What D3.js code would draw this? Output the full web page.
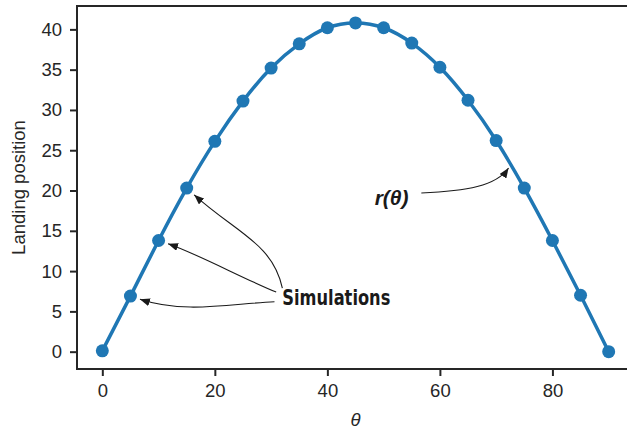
<!DOCTYPE html>
<html>
<head>
<meta charset="utf-8">
<script src="https://cdn.jsdelivr.net/npm/d3@7"></script>
<style>
  body { margin: 0; background: #fff; }
  svg { display: block; }
  .axis text { font-family: 'Liberation Sans', Arial, sans-serif; font-size: 18.5px; fill: #262626; }
  .axis line { stroke: #262626; stroke-width: 2; }
</style>
</head>
<body>
<div id="chart"></div>
<script>
// launch angle (degrees) and simulated landing position
const thetas = [0, 5, 10, 15, 20, 25, 30, 35, 40, 45, 50, 55, 60, 65, 70, 75, 80, 85, 90]
const landing = [0.1, 6.9, 13.8, 20.3, 26.1, 31.1, 35.2, 38.2, 40.2, 40.8, 40.2, 38.3, 35.3, 31.2, 26.2, 20.3, 13.8, 7.0, 0.0]

const xTicks = [0, 20, 40, 60, 80]
const yTicks = [0, 5, 10, 15, 20, 25, 30, 35, 40]

// annotation anchors, in data units
const simLabel = { text: 'Simulations', theta: 32.0, r: 5.8 }
const rLabel = { theta: 48.4, r: 18.2 }
// arrows from the "Simulations" label to three of the points
const simArrows = [
  { from: [32.0, 7.9], target: 3, c1: [-10, -45], c2: [50, 45] },
  { from: [30.9, 7.4], target: 2, c1: [-30, -12], c2: [38, 13] },
  { from: [30.6, 6.2], target: 1, c1: [-45, 2], c2: [55, 18] }
]
const rArrow = { from: [56.7, 19.7], to: [72.2, 22.8], c1: [45, -2], c2: [-12, 18] }

const width = 627
const height = 431
const plotLeft = 77
const plotTop = 6
const plotBottom = 369

const data = thetas.map((t, i) => ({ theta: t, r: landing[i] }))

const x = d3.scaleLinear().domain([-4.5, 94.5]).range([plotLeft, 634])
const y = d3.scaleLinear().domain([-2.15, 42.9]).range([plotBottom, plotTop])

const svg = d3
  .select('#chart')
  .append('svg')
  .attr('width', width)
  .attr('height', height)

svg
  .append('defs')
  .append('marker')
  .attr('id', 'head')
  .attr('viewBox', '0 0 10 8')
  .attr('refX', 10)
  .attr('refY', 4)
  .attr('markerWidth', 10)
  .attr('markerHeight', 8)
  .attr('markerUnits', 'userSpaceOnUse')
  .attr('orient', 'auto')
  .append('path')
  .attr('d', 'M0,0 L10,4 L0,8 Z')
  .attr('fill', '#1a1a1a')

// axes
const yAxis = d3.axisLeft(y).tickValues(yTicks).tickSize(7).tickPadding(8)
svg
  .append('g')
  .attr('class', 'axis y-axis')
  .attr('transform', 'translate(' + plotLeft + ',0)')
  .call(yAxis)
  .call(g => g.select('.domain').remove())

const xAxis = d3.axisBottom(x).tickValues(xTicks).tickSize(7).tickPadding(8)
svg
  .append('g')
  .attr('class', 'axis x-axis')
  .attr('transform', 'translate(0,' + plotBottom + ')')
  .call(xAxis)
  .call(g => g.select('.domain').remove())

// spines (right one falls outside the picture)
const spines = svg.append('g').attr('stroke', '#262626').attr('stroke-width', 2)
spines.append('line').attr('x1', plotLeft).attr('x2', plotLeft).attr('y1', plotTop).attr('y2', plotBottom)
spines.append('line').attr('x1', plotLeft - 1).attr('x2', width).attr('y1', plotTop).attr('y2', plotTop)
spines.append('line').attr('x1', plotLeft - 1).attr('x2', width).attr('y1', plotBottom).attr('y2', plotBottom)

svg
  .append('text')
  .attr('transform', 'translate(24.5,' + (plotTop + plotBottom) / 2 + ') rotate(-90)')
  .attr('text-anchor', 'middle')
  .style('font-family', "'Liberation Sans', Arial, sans-serif")
  .style('font-size', '18.5px')
  .attr('fill', '#262626')
  .text('Landing position')

svg
  .append('text')
  .attr('x', x(45))
  .attr('y', 426)
  .attr('text-anchor', 'middle')
  .style('font-family', "'Liberation Sans', Arial, sans-serif")
  .style('font-size', '18.5px')
  .style('font-style', 'italic')
  .attr('fill', '#262626')
  .text('θ')

// curve + simulated points
const line = d3
  .line()
  .x(d => x(d.theta))
  .y(d => y(d.r))
  .curve(d3.curveNatural)

svg
  .append('path')
  .datum(data)
  .attr('d', line)
  .attr('fill', 'none')
  .attr('stroke', '#1f77b4')
  .attr('stroke-width', 3.5)

svg
  .append('g')
  .selectAll('circle')
  .data(data)
  .enter()
  .append('circle')
  .attr('cx', d => x(d.theta))
  .attr('cy', d => y(d.r))
  .attr('r', 6.5)
  .attr('fill', '#1f77b4')

// annotations
const ann = svg.append('g')

function curvePath(s, c1, c2, e) {
  const p = d3.path()
  p.moveTo(s[0], s[1])
  p.bezierCurveTo(c1[0], c1[1], c2[0], c2[1], e[0], e[1])
  return p.toString()
}

simArrows.forEach(a => {
  const s = [x(a.from[0]), y(a.from[1])]
  const pt = data[a.target]
  const p = [x(pt.theta), y(pt.r)]
  const c2 = [p[0] + a.c2[0], p[1] + a.c2[1]]
  const len = Math.hypot(a.c2[0], a.c2[1])
  const gap = 10
  const e = [p[0] + (a.c2[0] / len) * gap, p[1] + (a.c2[1] / len) * gap]
  const c1 = [s[0] + a.c1[0], s[1] + a.c1[1]]
  ann
    .append('path')
    .attr('d', curvePath(s, c1, c2, e))
    .attr('fill', 'none')
    .attr('stroke', '#1a1a1a')
    .attr('stroke-width', 1.1)
    .attr('marker-end', 'url(#head)')
})

{
  const s = [x(rArrow.from[0]), y(rArrow.from[1])]
  const e = [x(rArrow.to[0]), y(rArrow.to[1])]
  const c1 = [s[0] + rArrow.c1[0], s[1] + rArrow.c1[1]]
  const c2 = [e[0] + rArrow.c2[0], e[1] + rArrow.c2[1]]
  ann
    .append('path')
    .attr('d', curvePath(s, c1, c2, e))
    .attr('fill', 'none')
    .attr('stroke', '#1a1a1a')
    .attr('stroke-width', 1.1)
    .attr('marker-end', 'url(#head)')
}

ann
  .append('text')
  .attr('x', x(simLabel.theta))
  .attr('y', y(simLabel.r))
  .attr('textLength', 108)
  .attr('lengthAdjust', 'spacingAndGlyphs')
  .style('font-family', "'Liberation Sans Narrow', 'DejaVu Sans Condensed', 'Liberation Sans', sans-serif")
  .style('font-size', '22px')
  .style('font-weight', 'bold')
  .attr('fill', '#1a1a1a')
  .text(simLabel.text)

const rt = ann
  .append('text')
  .attr('x', x(rLabel.theta))
  .attr('y', y(rLabel.r))
  .style('font-family', "'Liberation Sans', sans-serif")
  .style('font-size', '21px')
  .style('font-weight', 'bold')
  .style('font-style', 'italic')
  .attr('fill', '#1a1a1a')
rt.append('tspan').text('r(')
rt.append('tspan').text('θ')
rt.append('tspan').text(')')
</script>
</body>
</html>
